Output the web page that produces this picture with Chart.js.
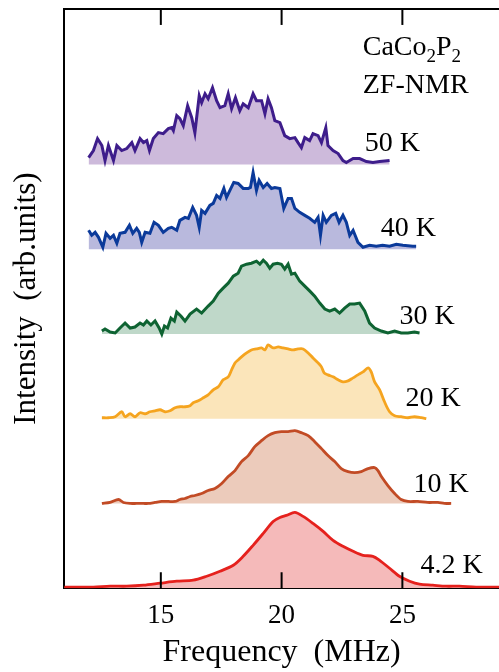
<!DOCTYPE html>
<html>
<head>
<meta charset="utf-8">
<script src="https://cdn.jsdelivr.net/npm/chart.js@4/dist/chart.umd.min.js"></script>
<style>
  html, body { margin: 0; padding: 0; background: #fff; }
</style>
</head>
<body>
<canvas id="nmr" width="499" height="672"></canvas>
<script>
// temperatures, top trace first
const temps = ["50 K", "40 K", "30 K", "20 K", "10 K", "4.2 K"];
// vertical shift of each spectrum (arb. units)
const offsets = [425, 340, 255, 170, 85, 0];
const xTicks = [15, 20, 25];

// spectra: frequency (MHz) / intensity (arb. units)
const freq50K = [12.01, 12.21, 12.38, 12.56, 12.69, 12.83, 13.04, 13.18, 13.38, 13.59, 13.80, 13.93, 14.14, 14.28, 14.42, 14.53, 14.69, 14.90, 15.10, 15.31, 15.45, 15.52, 15.66, 15.79, 15.93, 16.11, 16.28, 16.41, 16.59, 16.69, 16.83, 16.96, 17.14, 17.31, 17.45, 17.65, 17.79, 17.93, 18.09, 18.27, 18.41, 18.62, 18.82, 18.96, 19.17, 19.31, 19.44, 19.58, 19.72, 19.93, 20.13, 20.34, 20.55, 20.68, 20.82, 20.96, 21.16, 21.30, 21.51, 21.65, 21.83, 21.92, 22.13, 22.34, 22.54, 22.68, 22.96, 23.23, 23.51, 23.78, 24.06, 24.47];
const int50K = [7, 14, 26, 19, 4, 19, 4, 19, 14, 16, 22, 14, 26, 22, 24, 14, 26, 32, 31, 36, 37, 34, 49, 46, 39, 59, 47, 32, 69, 62, 71, 66, 77, 64, 57, 59, 71, 56, 67, 54, 61, 57, 71, 64, 64, 51, 66, 57, 44, 42, 29, 26, 27, 22, 17, 27, 24, 31, 29, 22, 37, 19, 14, 11, 4, 2, 6, 6, 3, 2, 3, 4];

const freq40K = [12.01, 12.14, 12.28, 12.42, 12.60, 12.73, 12.90, 13.04, 13.18, 13.31, 13.52, 13.70, 13.84, 14.00, 14.11, 14.21, 14.35, 14.55, 14.72, 14.90, 15.10, 15.31, 15.45, 15.66, 15.79, 16.00, 16.14, 16.32, 16.48, 16.59, 16.69, 16.83, 17.03, 17.17, 17.31, 17.45, 17.61, 17.72, 17.86, 18.02, 18.20, 18.41, 18.62, 18.71, 18.82, 18.96, 19.07, 19.24, 19.40, 19.58, 19.72, 19.93, 20.09, 20.27, 20.41, 20.55, 20.75, 20.96, 21.16, 21.37, 21.51, 21.61, 21.72, 21.85, 22.06, 22.24, 22.38, 22.54, 22.68, 22.82, 22.96, 23.16, 23.37, 23.64, 23.92, 24.18, 24.47, 24.75, 25.02, 25.43, 25.57];
const int40K = [19, 14, 17, 12, 2, 16, 11, 14, 6, 16, 17, 24, 16, 21, 17, 7, 17, 16, 27, 24, 17, 21, 22, 19, 29, 32, 31, 42, 34, 22, 39, 36, 44, 46, 54, 51, 61, 52, 59, 67, 66, 61, 61, 62, 77, 59, 69, 62, 66, 61, 62, 61, 41, 51, 51, 41, 37, 34, 31, 27, 32, 14, 34, 27, 34, 36, 27, 34, 27, 14, 19, 7, 2, 4, 3, 4, 3, 5, 4, 3, 3];

const freq30K = [12.56, 12.69, 12.90, 13.11, 13.31, 13.52, 13.73, 13.93, 14.14, 14.28, 14.42, 14.59, 14.76, 14.93, 15.04, 15.15, 15.28, 15.42, 15.56, 15.66, 15.83, 16.00, 16.21, 16.48, 16.69, 16.96, 17.17, 17.38, 17.58, 17.79, 18.00, 18.20, 18.34, 18.55, 18.75, 18.96, 19.10, 19.24, 19.37, 19.51, 19.65, 19.83, 19.99, 20.13, 20.27, 20.41, 20.55, 20.75, 20.96, 21.17, 21.37, 21.58, 21.79, 21.99, 22.20, 22.40, 22.61, 22.82, 23.02, 23.23, 23.44, 23.64, 23.85, 24.13, 24.40, 24.68, 24.95, 25.23, 25.50, 25.71];
const int30K = [3, 5, 2, 1, 6, 11, 6, 7, 11, 9, 13, 9, 13, 6, 0, 8, 6, 16, 13, 22, 18, 13, 20, 25, 21, 28, 33, 41, 46, 51, 58, 61, 68, 70, 71, 73, 70, 74, 71, 66, 70, 71, 70, 65, 70, 60, 61, 53, 48, 43, 38, 31, 25, 23, 25, 21, 26, 30, 30, 31, 23, 11, 6, 3, 1, 3, 1, 1, 2, 1];

const freq20K = [12.56, 12.83, 13.11, 13.38, 13.52, 13.73, 13.93, 14.14, 14.35, 14.55, 14.76, 14.97, 15.17, 15.38, 15.59, 15.79, 16.00, 16.21, 16.34, 16.55, 16.76, 16.96, 17.17, 17.38, 17.58, 17.79, 17.93, 18.07, 18.20, 18.34, 18.55, 18.75, 18.96, 19.17, 19.31, 19.44, 19.65, 19.86, 20.06, 20.27, 20.48, 20.68, 20.89, 21.10, 21.30, 21.51, 21.65, 21.76, 21.92, 22.13, 22.34, 22.54, 22.75, 22.96, 23.16, 23.37, 23.58, 23.71, 23.85, 24.06, 24.26, 24.47, 24.68, 24.95, 25.23, 25.50, 25.78, 25.99];
const int20K = [1, 1, 2, 7, 2, 5, 2, 6, 5, 7, 8, 9, 7, 8, 11, 12, 12, 13, 16, 18, 21, 24, 29, 32, 39, 42, 49, 56, 59, 62, 66, 69, 70, 71, 69, 74, 71, 72, 71, 70, 69, 70, 70, 66, 61, 56, 52, 46, 44, 42, 39, 37, 38, 41, 44, 47, 51, 47, 37, 29, 17, 7, 3, 2, 1, 2, 1, 0];

const freq10K = [12.56, 12.90, 13.25, 13.45, 13.73, 14.00, 14.28, 14.48, 14.76, 15.04, 15.31, 15.59, 15.79, 16.00, 16.21, 16.41, 16.69, 16.96, 17.24, 17.52, 17.79, 18.07, 18.34, 18.62, 18.89, 19.17, 19.44, 19.72, 19.99, 20.27, 20.55, 20.82, 21.10, 21.37, 21.65, 21.92, 22.20, 22.47, 22.75, 23.02, 23.30, 23.58, 23.85, 23.99, 24.13, 24.40, 24.68, 24.95, 25.23, 25.64, 26.05, 26.47, 26.74, 27.02];
const int10K = [0, 1, 4, 1, 0, 0, 0, 0, 1, 2, 2, 2, 4, 5, 7, 8, 10, 13, 15, 20, 27, 33, 42, 48, 57, 63, 68, 71, 72, 72, 73, 71, 68, 62, 55, 48, 42, 35, 32, 31, 32, 35, 36, 33, 27, 18, 10, 4, 2, 2, 1, 1, 0, 0];

const freq4K = [11.00, 11.52, 12.21, 12.90, 13.59, 14.28, 14.97, 15.66, 16.34, 16.90, 17.45, 18.00, 18.41, 18.82, 19.24, 19.65, 19.93, 20.20, 20.55, 20.89, 21.30, 21.72, 22.13, 22.54, 22.96, 23.37, 23.78, 24.06, 24.47, 24.88, 25.30, 25.71, 26.26, 26.81, 27.36, 28.05, 28.88, 29.00];
const int4K = [1, 1, 1, 2, 2, 3, 5, 7, 8, 12, 17, 23, 32, 43, 55, 67, 71, 73, 76, 72, 65, 57, 48, 42, 37, 33, 32, 28, 20, 12, 7, 4, 3, 2, 2, 1, 1, 1];

const series = [
  [freq50K, int50K],
  [freq40K, int40K],
  [freq30K, int30K],
  [freq20K, int20K],
  [freq10K, int10K],
  [freq4K, int4K],
];

const lineColors = ["#3e1d8b", "#0b3a9a", "#0e6332", "#f5a41f", "#c24b25", "#e5211d"];
const fillColors = ["#cdbadb", "#b9b9dd", "#bfd8c9", "#fbe5ba", "#eccbbb", "#f5baba"];
const serif = "'Liberation Serif', 'Times New Roman', serif";
const yMax = 581;
const tickLen = 16;

const datasets = series.map(([fx, iy], i) => ({
  label: temps[i],
  data: fx.map((f, k) => ({ x: f, y: iy[k] + offsets[i] })),
  borderColor: lineColors[i],
  backgroundColor: fillColors[i],
  borderWidth: i < 3 ? 3 : 2.8,
  fill: { value: offsets[i] },
  pointRadius: 0,
  tension: i >= 3 ? 0.3 : 0,
}));

// inward tick marks, drawn through the scales as short black segments
xTicks.forEach((v) => {
  [[0, tickLen], [yMax - tickLen, yMax]].forEach(([y0, y1]) => {
    datasets.push({
      label: "",
      data: [{ x: v, y: y0 }, { x: v, y: y1 }],
      borderColor: "#000",
      borderWidth: 2,
      pointRadius: 0,
      fill: false,
      order: -1,
      clip: false,
    });
  });
});

// top frame line and text tags
const tagsPlugin = {
  id: "tags",
  afterDraw(chart) {
    const { ctx, chartArea: a, scales } = chart;
    const xs = scales.x, ys = scales.y;
    ctx.save();
    ctx.fillStyle = "#000";
    ctx.fillRect(a.left - 1, a.top - 1, a.right - a.left + 1, 2);

    ctx.textAlign = "left";
    ctx.textBaseline = "alphabetic";
    ctx.font = "28px " + serif;
    const tagSpots = [[23.44, 14], [24.1, 13], [24.88, 10], [25.13, 13], [25.46, 12], [25.75, 15]];
    temps.forEach((t, i) => {
      const [f, dy] = tagSpots[i];
      ctx.fillText(t, xs.getPixelForValue(f), ys.getPixelForValue(offsets[i] + dy));
    });

    let cx = xs.getPixelForValue(23.36);
    const cy = ys.getPixelForValue(535);
    const parts = [["CaCo", false], ["2", true], ["P", false], ["2", true]];
    parts.forEach(([s, sub]) => {
      ctx.font = (sub ? "19px " : "28px ") + serif;
      ctx.fillText(s, cx, cy + (sub ? 7 : 0));
      cx += ctx.measureText(s).width;
    });
    ctx.font = "28px " + serif;
    ctx.fillText("ZF-NMR", xs.getPixelForValue(23.36), ys.getPixelForValue(497));
    ctx.restore();
  },
};

new Chart(document.getElementById("nmr"), {
  type: "line",
  data: { datasets: datasets },
  options: {
    responsive: false,
    devicePixelRatio: 1,
    animation: false,
    layout: { padding: { left: 8, top: 9, right: 0, bottom: 0 } },
    plugins: { legend: { display: false }, tooltip: { enabled: false } },
    scales: {
      x: {
        type: "linear",
        min: 11,
        max: 29,
        position: "bottom",
        afterBuildTicks: (scale) => {
          scale.ticks = xTicks.map((v) => ({ value: v }));
        },
        grid: { display: false, drawTicks: false },
        border: { color: "#000", width: 2 },
        ticks: { color: "#000", padding: 12, maxRotation: 0, font: { family: serif, size: 27 } },
        title: {
          display: true,
          text: "Frequency  (MHz)",
          color: "#000",
          font: { family: serif, size: 32 },
          padding: { top: -11, bottom: 0 },
        },
      },
      y: {
        min: 0,
        max: yMax,
        grid: { display: false, drawTicks: false },
        border: { color: "#000", width: 2 },
        ticks: { display: false },
        title: {
          display: true,
          text: "Intensity  (arb.units)",
          color: "#000",
          font: { family: serif, size: 31 },
          padding: { top: 0, bottom: 19 },
        },
      },
    },
  },
  plugins: [tagsPlugin],
});
</script>
</body>
</html>
